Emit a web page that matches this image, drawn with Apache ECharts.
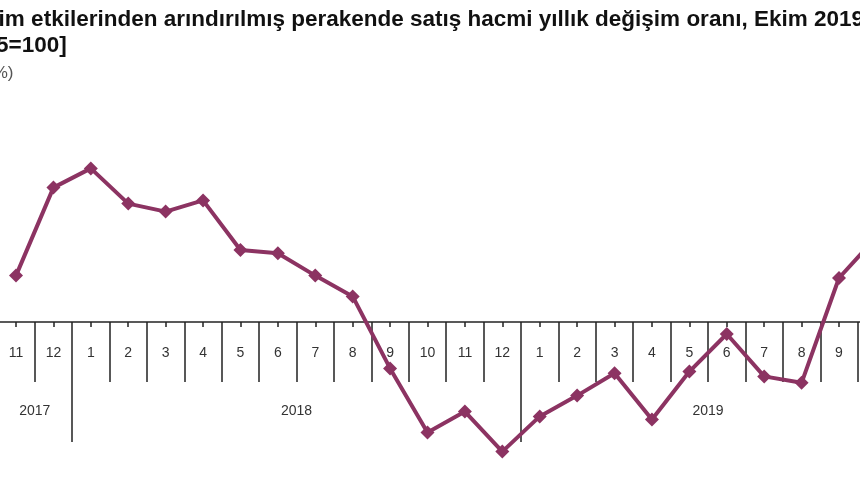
<!DOCTYPE html>
<html>
<head>
<meta charset="utf-8">
<script src="https://cdn.jsdelivr.net/npm/echarts@6/dist/echarts.min.js"></script>
<style>
html,body{margin:0;padding:0;background:#fff;overflow:hidden;}
#c{width:860px;height:480px;}
</style>
</head>
<body>
<div id="c"></div>
<script>
var months = ['11','12','1','2','3','4','5','6','7','8','9','10','11','12','1','2','3','4','5','6','7','8','9','10'];
var yearLabels = ['2017','2018','2019'];
var values = [2.9, 8.4, 9.6, 7.4, 6.9, 7.6, 4.5, 4.3, 2.9, 1.6, -2.9, -6.9, -5.6, -8.1, -5.9, -4.6, -3.2, -6.1, -3.1, -0.75, -3.4, -3.8, 2.75, 5.3];
var titleLine1 = 'Takvim etkilerinden arındırılmış perakende satış hacmi yıllık değişim oranı, Ekim 2019';
var titleLine2 = '[2015=100]';
var unitLabel = '(%)';

// year groups derived from month list
var groupStarts = [0];
for (var i = 1; i < months.length; i++) { if (months[i] === '1') groupStarts.push(i); }
var yearBoundaries = groupStarts.slice(1).map(function (s) { return s - 0.5; });
var yearCenters = groupStarts.map(function (s, k) {
  var e = (k + 1 < groupStarts.length ? groupStarts[k + 1] : months.length) - 1;
  return (s + e) / 2;
});

var color = '#8c3362';
var fontFam = 'Liberation Sans, Arial, sans-serif';
var yMin = -9.5, yMax = 15;
var gTop = 82, gBottom = 6;
// axis grid ends exactly at the zero line of the data grid
var plotH = 480 - gTop - gBottom;
var zeroBottom = 480 - (gTop + plotH * (yMax / (yMax - yMin)));

var chart = echarts.init(document.getElementById('c'));
chart.setOption({
  backgroundColor: '#fff',
  animation: false,
  title: [
    { text: titleLine1, left: -56, top: 3, textStyle: { fontFamily: fontFam, fontWeight: 'bold', fontSize: 22.5, color: '#111' } },
    { text: titleLine2, left: -54, top: 29, textStyle: { fontFamily: fontFam, fontWeight: 'bold', fontSize: 22.5, color: '#111' } },
    { text: unitLabel, left: -18, top: 60, textStyle: { fontFamily: fontFam, fontWeight: 'normal', fontSize: 17, color: '#555' } }
  ],
  grid: [
    { left: -2.7, right: -35.1, top: gTop, bottom: gBottom, containLabel: false, outerBoundsMode: 'none' },
    { left: -2.7, right: -35.1, top: gTop, bottom: zeroBottom, containLabel: false, outerBoundsMode: 'none' }
  ],
  yAxis: [
    { type: 'value', gridIndex: 0, min: yMin, max: yMax, show: false, splitLine: { show: false } },
    { type: 'value', gridIndex: 1, min: 0, max: 1, show: false, splitLine: { show: false } }
  ],
  xAxis: [
    {
      type: 'category', gridIndex: 0, data: months, boundaryGap: true, show: false
    },
    {
      type: 'category', gridIndex: 1, data: months, boundaryGap: true, position: 'bottom',
      axisLine: { show: true, onZero: false, lineStyle: { color: '#222', width: 1.5 } },
      axisTick: { show: true, length: 60, lineStyle: { color: '#222', width: 1.5 } },
      axisLabel: { margin: 24, fontFamily: fontFam, fontSize: 14, color: '#333', interval: 0 },
      splitLine: { show: false }
    },
    {
      type: 'category', gridIndex: 1, data: months, boundaryGap: true, position: 'bottom',
      axisLine: { show: false, onZero: false },
      axisTick: { show: true, alignWithLabel: true, length: 5, lineStyle: { color: '#222', width: 1.5 } },
      axisLabel: { show: false },
      splitLine: { show: false }
    },
    {
      type: 'value', gridIndex: 1, min: -0.5, max: months.length - 0.5, position: 'bottom',
      axisLine: { show: false, onZero: false },
      axisTick: { show: true, customValues: yearBoundaries, length: 120, lineStyle: { color: '#222', width: 1.5 } },
      axisLabel: {
        show: true, customValues: yearCenters, margin: 82,
        fontFamily: fontFam, fontSize: 14, color: '#333',
        formatter: function (v) {
          for (var k = 0; k < yearCenters.length; k++) { if (Math.abs(yearCenters[k] - v) < 1e-6) return yearLabels[k]; }
          return '';
        }
      },
      splitLine: { show: false }
    }
  ],
  series: [{
    type: 'line', data: values, xAxisIndex: 0, yAxisIndex: 0,
    symbol: 'diamond', symbolSize: 14, showSymbol: true,
    lineStyle: { color: color, width: 4 },
    itemStyle: { color: color },
    z: 5,
    clip: true
  }]
});
</script>
</body>
</html>
